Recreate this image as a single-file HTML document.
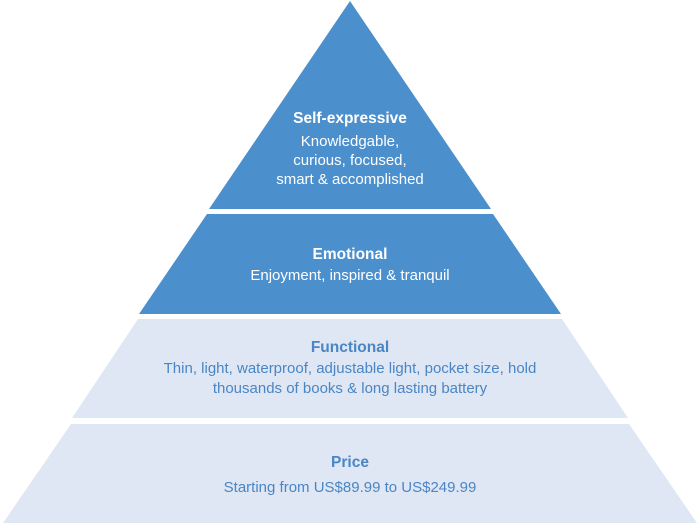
<!DOCTYPE html>
<html><head><style>
body{margin:0;background:#fff;}
svg text{font-family:"Liberation Sans",Arial,sans-serif;text-anchor:middle;}
</style></head><body>
<svg width="700" height="526" viewBox="0 0 700 526" xmlns="http://www.w3.org/2000/svg">
<polygon points="350,1 491,209 209,209" fill="#4b8fcd"/>
<polygon points="207,214 493,214 561,314 139,314" fill="#4b8fcd"/>
<polygon points="138,319 562,319 628,418 72,418" fill="#dfe6f4"/>
<polygon points="71,424 629,424 697,523 3,523" fill="#dfe6f4"/>
<g fill="#fff">
<text x="350" y="123" font-size="15.5" font-weight="bold">Self-expressive</text>
<text x="350" y="146" font-size="15">Knowledgable,</text>
<text x="350" y="165" font-size="15">curious, focused,</text>
<text x="350" y="184" font-size="15">smart &amp; accomplished</text>
<text x="350" y="259" font-size="15.5" font-weight="bold">Emotional</text>
<text x="350" y="280" font-size="15">Enjoyment, inspired &amp; tranquil</text>
</g>
<g fill="#4a86c4">
<text x="350" y="352" font-size="15.5" font-weight="bold">Functional</text>
<text x="350" y="373" font-size="15">Thin, light, waterproof, adjustable light, pocket size, hold</text>
<text x="350" y="393" font-size="15">thousands of books &amp; long lasting battery</text>
<text x="350" y="467" font-size="15.5" font-weight="bold">Price</text>
<text x="350" y="492" font-size="15">Starting from US$89.99 to US$249.99</text>
</g>
</svg>
</body></html>
